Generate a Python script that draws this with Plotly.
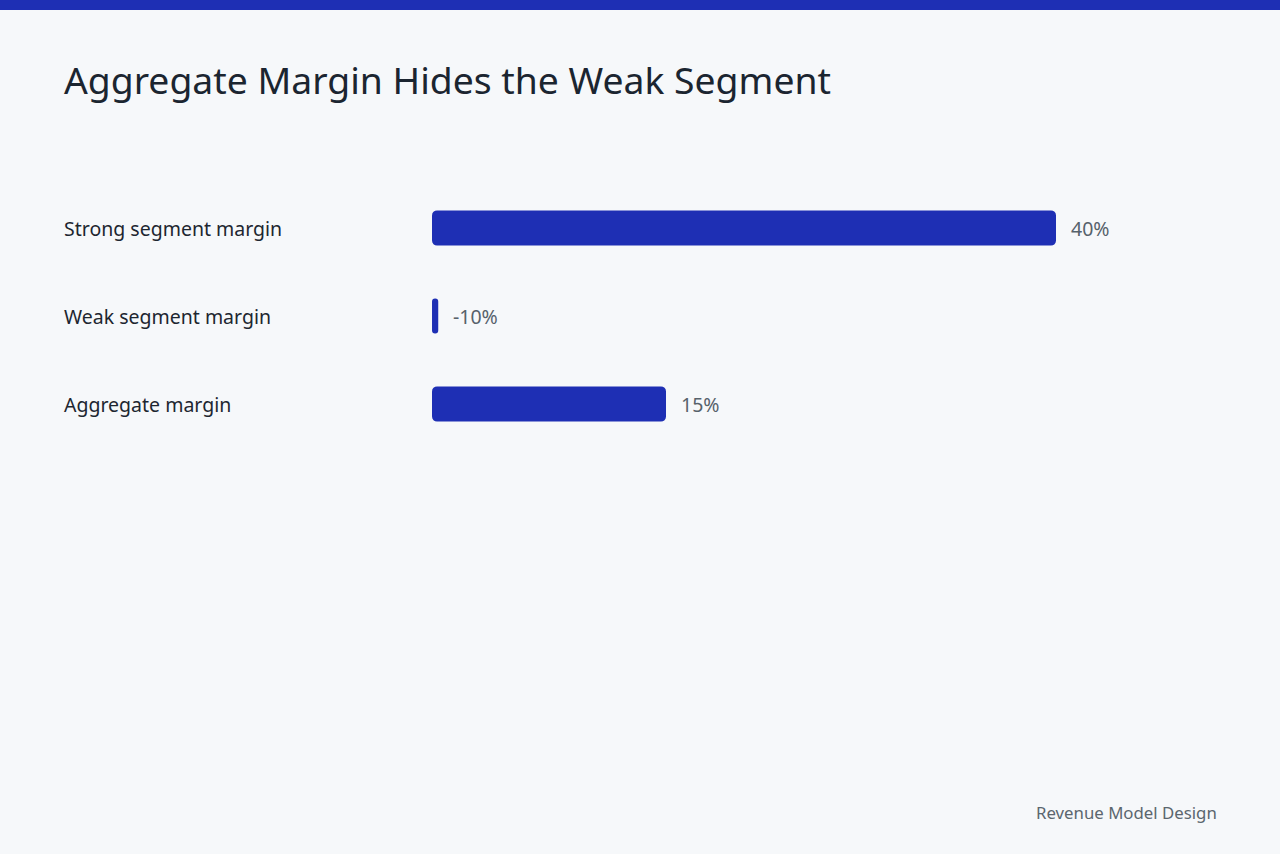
import plotly.graph_objects as go

# data
categories = ["Strong segment margin", "Weak segment margin", "Aggregate margin"]
margins = [40, -10, 15]
value_labels = ["40%", "-10%", "15%"]

BLUE = "#1e2fb4"
BG = "#f6f8fa"
FONT = "Noto Sans"

W, H = 1280, 854
ml, mr, mt, mb = 432, 68, 184, 406

# negative values are shown as a thin stub at zero
bar_len = [max(v, 0.4) for v in margins]
# a floating bar (explicit base) gets both ends rounded
start = 0.001

fig = go.Figure()
fig.add_trace(go.Bar(
    y=categories, x=[v - start for v in bar_len], base=[start] * len(bar_len),
    orientation="h",
    marker=dict(color=BLUE, cornerradius=5, line=dict(width=0)),
    hoverinfo="skip", showlegend=False,
))

# value labels just past the bar end
for cat, v, lab in zip(categories, bar_len, value_labels):
    fig.add_annotation(x=v, y=cat, xref="x", yref="y", text=lab,
                       showarrow=False, xanchor="left", xshift=13,
                       font=dict(family=FONT, size=19.5, color="#56626b"))

# category labels, left aligned
pw = W - ml - mr
for cat in categories:
    fig.add_annotation(x=(62 - ml) / pw, y=cat, xref="paper", yref="y",
                       text=cat, showarrow=False, xanchor="left",
                       font=dict(family=FONT, size=19.5, color="#1d2630"))

ph = H - mt - mb
# top stripe
fig.add_shape(type="rect", xref="paper", yref="paper",
              x0=-ml / pw, x1=1 + mr / pw,
              y0=1 + (mt - 10) / ph, y1=1 + mt / ph,
              fillcolor=BLUE, line=dict(width=0), layer="above")

fig.add_annotation(x=(62 - ml) / pw, y=1 + (mt - 80) / ph, xref="paper", yref="paper",
                   text="Aggregate Margin Hides the Weak Segment", showarrow=False,
                   xanchor="left", yanchor="middle",
                   font=dict(family=FONT, size=37.3, color="#1b2530"))

fig.add_annotation(x=(1219 - ml) / pw, y=-(812 - mt - ph) / ph, xref="paper", yref="paper",
                   text="Revenue Model Design", showarrow=False,
                   xanchor="right", yanchor="middle",
                   font=dict(family=FONT, size=16.8, color="#5b666e"))

fig.update_layout(
    width=W, height=H,
    margin=dict(l=ml, r=mr, t=mt, b=mb, pad=0),
    paper_bgcolor=BG, plot_bgcolor=BG,
    bargap=0.6,
    xaxis=dict(range=[0, 50], visible=False, fixedrange=True),
    yaxis=dict(autorange="reversed", showticklabels=False, showgrid=False,
               zeroline=False, fixedrange=True),
    font=dict(family=FONT),
)

fig.write_html("out.html", config={"displayModeBar": False},
               post_script="document.body.style.margin='0';"
                           "document.body.style.background='" + BG + "';")
